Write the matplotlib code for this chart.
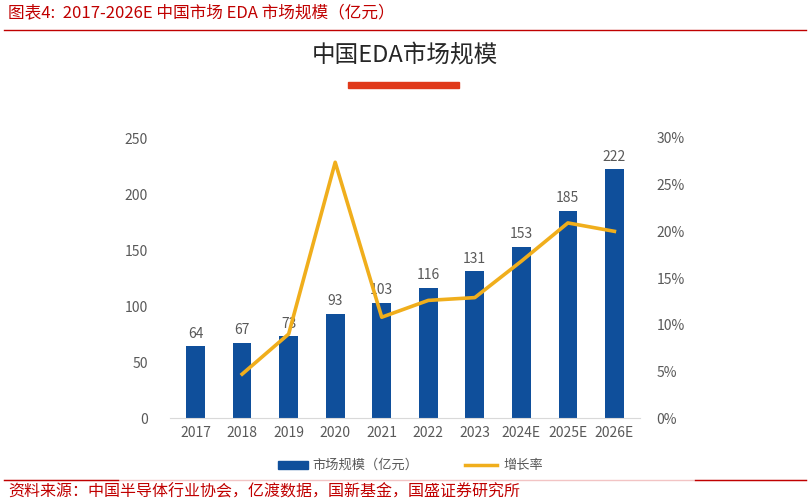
import numpy as np
import matplotlib.pyplot as plt
from matplotlib.patches import Rectangle
from matplotlib.lines import Line2D

plt.rcParams['font.family'] = ['Noto Sans CJK SC', 'DejaVu Sans']

years = ['2017', '2018', '2019', '2020', '2021', '2022', '2023', '2024E', '2025E', '2026E']
market = [64, 67, 73, 93, 103, 116, 131, 153, 185, 222]
growth = [None, 4.7, 9.0, 27.4, 10.8, 12.6, 12.9, 16.8, 20.9, 20.0]

blue = '#0F4F9B'
gold = '#F0AE1C'
grey = '#595959'
red = '#C00000'

fig = plt.figure(figsize=(8.1, 5.04), dpi=100)
ax = fig.add_axes([170 / 810, 1 - 418 / 504, 470 / 810, 280 / 504])
ax2 = ax.twinx()

x = np.arange(len(years))
ax.bar(x, market, width=0.4, color=blue, zorder=2)
for xi, v in zip(x, market):
    ax.text(xi, v + 5, str(v), ha='center', va='bottom', fontsize=10, color=grey)

gx = [xi for xi, g in zip(x, growth) if g is not None]
gy = [g for g in growth if g is not None]
ax2.plot(gx, gy, color=gold, lw=2.6, zorder=3)

ax.set_xlim(-0.55, len(years) - 0.45)
ax.set_ylim(0, 250)
ax2.set_ylim(0, 30)
ax.set_yticks(range(0, 251, 50))
ax2.set_yticks(range(0, 31, 5))
ax2.set_yticklabels([f'{t}%' for t in range(0, 31, 5)])
ax.set_xticks(x)
ax.set_xticklabels(years)

for a in (ax, ax2):
    for s in a.spines.values():
        s.set_visible(False)
    a.tick_params(length=0, labelsize=10, labelcolor=grey)
ax.spines['bottom'].set_visible(True)
ax.spines['bottom'].set_color('#D9D9D9')
ax.tick_params(axis='y', pad=16)
ax2.tick_params(axis='y', pad=12)
ax.tick_params(axis='x', pad=6)
ax.set_zorder(ax2.get_zorder() - 1)
ax.patch.set_visible(False)

# header
fig.text(8 / 810, 1 - 14 / 504, '图表4:  2017-2026E 中国市场 EDA 市场规模（亿元）',
         fontsize=12, color=red, style='italic', va='center', ha='left')
fig.add_artist(Line2D([4 / 810, 806 / 810], [1 - 30 / 504] * 2, color=red, lw=1))
fig.text(405 / 810, 1 - 55 / 504, '中国EDA市场规模', fontsize=17, color='#262626',
         ha='center', va='center', fontweight='medium')
fig.add_artist(Rectangle((348 / 810, 1 - 88 / 504), 111 / 810, 6 / 504,
                         color='#E0391A', transform=fig.transFigure))

# legend
fig.add_artist(Rectangle((278 / 810, 1 - 469 / 504), 30 / 810, 8 / 504,
                         color=blue, transform=fig.transFigure))
fig.text(312 / 810, 1 - 465 / 504, '市场规模（亿元）', fontsize=9.5, color=grey, va='center')
fig.add_artist(Line2D([465 / 810, 497 / 810], [1 - 465 / 504] * 2, color=gold, lw=2.5))
fig.text(503 / 810, 1 - 465 / 504, '增长率', fontsize=9.5, color=grey, va='center')

# footer
fig.add_artist(Line2D([4 / 810, 806 / 810], [1 - 480 / 504] * 2, color='#F2C4C4', lw=1))
fig.add_artist(Line2D([4 / 810, 118 / 810], [1 - 480 / 504] * 2, color=red, lw=1))
fig.add_artist(Line2D([695 / 810, 806 / 810], [1 - 480 / 504] * 2, color=red, lw=1))
fig.text(8 / 810, 1 - 492 / 504, '资料来源：中国半导体行业协会，亿渡数据，国新基金，国盛证券研究所',
         fontsize=11.5, color=red, style='italic', va='center', ha='left')

fig.savefig('out.png', dpi=100)
plt.close()
